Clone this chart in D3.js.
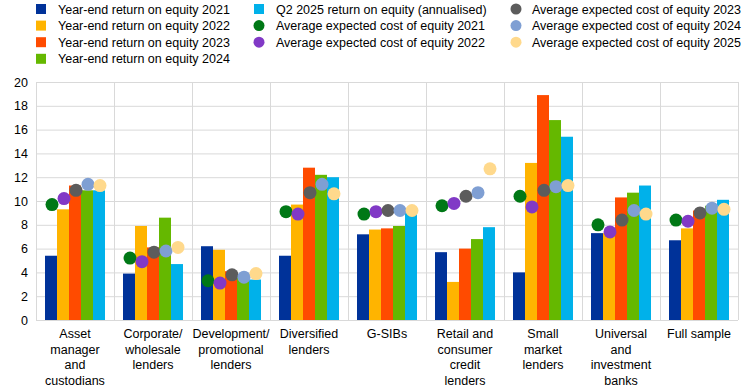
<!DOCTYPE html>
<html>
<head>
<meta charset="utf-8">
<script src="https://cdn.jsdelivr.net/npm/d3@7"></script>
<style>
  body { margin: 0; background: #fff; }
  svg { font-family: "Liberation Sans", Arial, sans-serif; }
</style>
</head>
<body>
<svg class="chart" width="745" height="390"></svg>
<script>
// categories (one array of lines per label)
const categories = [
  ["Asset", "manager", "and", "custodians"],
  ["Corporate/", "wholesale", "lenders"],
  ["Development/", "promotional", "lenders"],
  ["Diversified", "lenders"],
  ["G-SIBs"],
  ["Retail and", "consumer", "credit", "lenders"],
  ["Small", "market", "lenders"],
  ["Universal", "and", "investment", "banks"],
  ["Full sample"]
]

// bars: return on equity
const roe2021 = [5.4, 3.9, 6.2, 5.4, 7.2, 5.7, 4.0, 7.3, 6.7]
const roe2022 = [9.3, 7.9, 5.9, 9.7, 7.6, 3.2, 13.2, 7.3, 7.7]
const roe2023 = [11.3, 6.1, 4.1, 12.8, 7.7, 6.0, 18.9, 10.3, 9.2]
const roe2024 = [10.9, 8.6, 3.6, 12.2, 7.9, 6.8, 16.8, 10.7, 9.6]
const roeQ2_2025 = [10.9, 4.7, 3.4, 12.0, 9.0, 7.8, 15.4, 11.3, 10.1]

// dots: average expected cost of equity
const coe2021 = [9.7, 5.2, 3.3, 9.1, 8.9, 9.6, 10.4, 8.0, 8.4]
const coe2022 = [10.2, 4.9, 3.1, 8.9, 9.1, 9.8, 9.5, 7.4, 8.3]
const coe2023 = [10.9, 5.7, 3.8, 10.7, 9.2, 10.4, 10.9, 8.4, 9.0]
const coe2024 = [11.4, 5.8, 3.6, 11.4, 9.2, 10.7, 11.2, 9.2, 9.4]
const coe2025 = [11.3, 6.1, 3.9, 10.6, 9.2, 12.7, 11.3, 8.9, 9.3]

const yTicks = [0, 2, 4, 6, 8, 10, 12, 14, 16, 18, 20]

const barSeries = [
  {name: "Year-end return on equity 2021", values: roe2021, color: "#003299"},
  {name: "Year-end return on equity 2022", values: roe2022, color: "#ffb400"},
  {name: "Year-end return on equity 2023", values: roe2023, color: "#ff4b00"},
  {name: "Year-end return on equity 2024", values: roe2024, color: "#65b800"},
  {name: "Q2 2025 return on equity (annualised)", values: roeQ2_2025, color: "#00b1ea"}
]
const dotSeries = [
  {name: "Average expected cost of equity 2021", values: coe2021, color: "#007816"},
  {name: "Average expected cost of equity 2022", values: coe2022, color: "#8139c6"},
  {name: "Average expected cost of equity 2023", values: coe2023, color: "#5c5c5c"},
  {name: "Average expected cost of equity 2024", values: coe2024, color: "#7f9fd3"},
  {name: "Average expected cost of equity 2025", values: coe2025, color: "#ffd98c"}
]

const svg = d3.select(".chart")
const plotLeft = 36, plotRight = 738, plotTop = 82, plotBottom = 320

const x = d3.scaleBand()
  .domain(d3.range(categories.length))
  .range([plotLeft, plotRight])
const inner = d3.scaleBand()
  .domain(d3.range(barSeries.length))
  .range([9, x.bandwidth() - 9])
const y = d3.scaleLinear().domain([0, 20]).range([plotBottom, plotTop])

// grid
const grid = svg.append("g")
grid.selectAll("line.h")
  .data(yTicks)
  .enter().append("line")
  .attr("x1", plotLeft).attr("x2", plotRight)
  .attr("y1", d => y(d) + 0.5).attr("y2", d => y(d) + 0.5)
  .attr("stroke", "#d9d9d9").attr("stroke-width", 1)
grid.selectAll("line.v")
  .data(d3.range(categories.length + 1))
  .enter().append("line")
  .attr("x1", d => (d < categories.length ? x(d) : plotRight) + 0.5)
  .attr("x2", d => (d < categories.length ? x(d) : plotRight) + 0.5)
  .attr("y1", plotTop).attr("y2", plotBottom)
  .attr("stroke", "#d9d9d9").attr("stroke-width", 1)

// y axis labels
const yAxis = svg.append("g")
  .attr("transform", "translate(" + plotLeft + ",0)")
  .call(d3.axisLeft(y).tickValues(yTicks).tickSize(0).tickPadding(8))
yAxis.select(".domain").remove()
yAxis.selectAll("text")
  .style("font-size", "12.5px")
  .style("font-family", "Liberation Sans, Arial, sans-serif")
  .attr("fill", "#000")

// bars
barSeries.forEach(function(s, i){
  svg.append("g")
    .selectAll("rect")
    .data(s.values)
    .enter().append("rect")
    .attr("x", (d, j) => x(j) + inner(i))
    .attr("width", inner.bandwidth())
    .attr("y", d => y(d))
    .attr("height", d => y(0) - y(d))
    .attr("fill", s.color)
})

// dots
dotSeries.forEach(function(s, i){
  svg.append("g")
    .selectAll("circle")
    .data(s.values)
    .enter().append("circle")
    .attr("cx", (d, j) => x(j) + inner(i) + inner.bandwidth() / 2 + 1)
    .attr("cy", d => y(d))
    .attr("r", 6.5)
    .attr("fill", s.color)
})

// x labels
const xl = svg.append("g")
categories.forEach(function(lines, j){
  const t = xl.append("text")
    .attr("text-anchor", "middle")
    .attr("font-size", "12.5px")
    .attr("fill", "#000")
  lines.forEach(function(line, k){
    t.append("tspan")
      .attr("x", x(j) + x.bandwidth() / 2)
      .attr("y", 338 + k * 15.5)
      .text(line)
  })
})

// legend
const legendItems = [
  {s: barSeries[0], col: 0, row: 0, shape: "rect"},
  {s: barSeries[1], col: 0, row: 1, shape: "rect"},
  {s: barSeries[2], col: 0, row: 2, shape: "rect"},
  {s: barSeries[3], col: 0, row: 3, shape: "rect"},
  {s: barSeries[4], col: 1, row: 0, shape: "rect"},
  {s: dotSeries[0], col: 1, row: 1, shape: "circle"},
  {s: dotSeries[1], col: 1, row: 2, shape: "circle"},
  {s: dotSeries[2], col: 2, row: 0, shape: "circle"},
  {s: dotSeries[3], col: 2, row: 1, shape: "circle"},
  {s: dotSeries[4], col: 2, row: 2, shape: "circle"}
]
const colX = [41, 259, 516]
const colText = [58, 276, 532]
const legend = svg.append("g")
legendItems.forEach(function(it){
  const cy = 9 + it.row * 16.6
  if (it.shape == "rect") {
    legend.append("rect")
      .attr("x", colX[it.col] - 5).attr("y", cy - 5)
      .attr("width", 10).attr("height", 10)
      .attr("fill", it.s.color)
  } else {
    legend.append("circle")
      .attr("cx", colX[it.col]).attr("cy", cy)
      .attr("r", 5.5)
      .attr("fill", it.s.color)
  }
  legend.append("text")
    .attr("x", colText[it.col]).attr("y", cy + 4.5)
    .attr("font-size", "12.5px")
    .attr("fill", "#000")
    .text(it.s.name)
})
</script>
</body>
</html>
